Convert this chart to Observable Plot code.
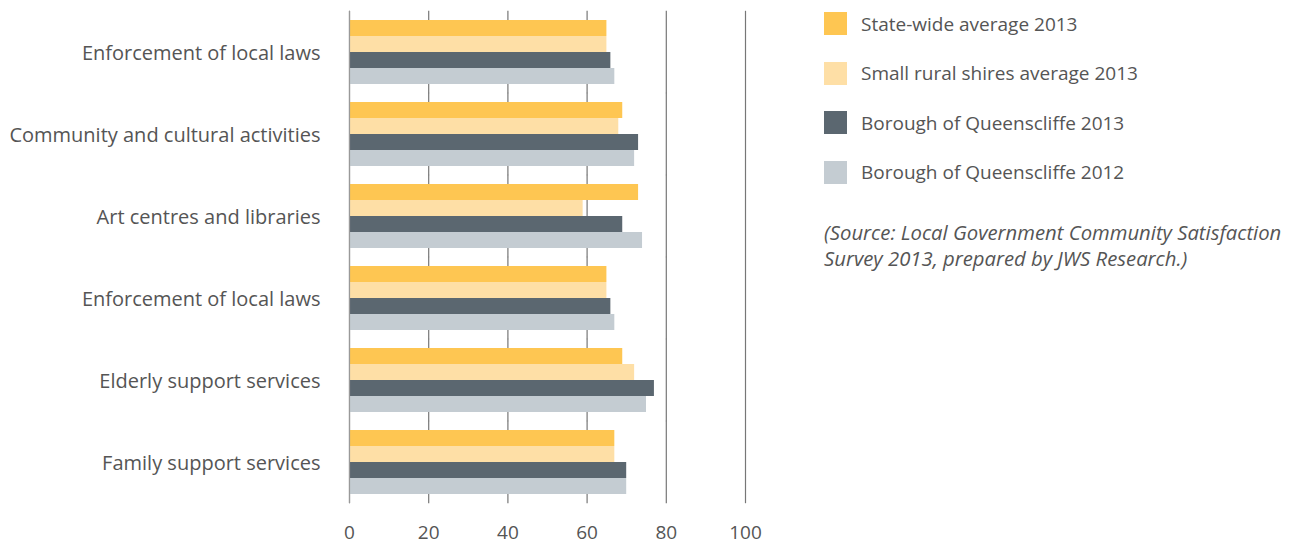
<!DOCTYPE html>
<html><head><meta charset="utf-8">
<script src="https://cdn.jsdelivr.net/npm/d3@7"></script>
<script src="https://cdn.jsdelivr.net/npm/@observablehq/plot@0.6"></script>
<style>
body{margin:0;background:#fff;font-family:"Open Sans",sans-serif;}
#wrap{position:relative;width:1292px;height:546px;overflow:hidden;}
#chart{position:absolute;left:0;top:0;}
#legend{position:absolute;left:824px;top:12px;color:#555;font-size:19px;}
.row{display:flex;align-items:center;height:23px;margin-bottom:26.5px;white-space:nowrap;}
.sw{width:23px;height:23px;margin-right:14px;flex:none;}
.src{font-style:italic;font-size:20.3px;margin-top:35px;line-height:26px;white-space:nowrap;}
</style>
</head><body>
<div id="wrap"><div id="chart"></div><div id="legend"></div></div>
<script>
const categories = ["Enforcement of local laws","Community and cultural activities","Art centres and libraries","Enforcement of local laws","Elderly support services","Family support services"];
const series = ["State-wide average 2013","Small rural shires average 2013","Borough of Queenscliffe 2013","Borough of Queenscliffe 2012"];
const stateWide = [65,69,73,65,69,67];
const smallRural = [65,68,59,65,72,67];
const borough2013 = [66,73,69,66,77,70];
const borough2012 = [67,72,74,67,75,70];
const xTicks = [0,20,40,60,80,100];
const colors = ["#FEC652","#FEDFA6","#5B6770","#C4CCD2"];
const source = ["(Source: Local Government Community Satisfaction","Survey 2013, prepared by JWS Research.)"];

const valuesBySeries = [stateWide, smallRural, borough2013, borough2012];
const rows = [];
categories.forEach((c, i) => {
  series.forEach((s, j) => rows.push({group: i, series: s, value: valuesBySeries[j][i]}));
});

const font = {fontSize: "20px", fontFamily: "'Open Sans', sans-serif", color: "#555"};
const ext = -9.2;

const chart = Plot.plot({
  width: 790, height: 546,
  marginLeft: 349, marginRight: 45, marginTop: 9, marginBottom: 42,
  style: {background: "transparent", ...font},
  x: {domain: [0, 100]},
  fy: {domain: d3.range(categories.length), paddingInner: 0.22, paddingOuter: 0.11},
  y: {domain: series, padding: 0, axis: null},
  color: {domain: series, range: colors},
  marks: [
    Plot.ruleX(xTicks, {stroke: "#777", strokeWidth: 1.2, insetTop: ext, insetBottom: ext}),
    Plot.barX(rows, {fy: "group", y: "series", x: "value", fill: "series"}),
    Plot.ruleX([0], {stroke: "#999", strokeWidth: 1.2, insetTop: ext, insetBottom: ext}),
    Plot.axisX({ticks: xTicks, tickSize: 0, tickPadding: 31, label: null, fill: "#555", fontSize: 19}),
    Plot.axisFy({anchor: "left", tickSize: 0, tickPadding: 29, label: null, tickFormat: i => categories[i], fill: "#555", fontSize: 20, dy: 1})
  ]
});
document.getElementById("chart").appendChild(chart);

const legend = document.getElementById("legend");
series.forEach((s, j) => {
  const r = document.createElement("div"); r.className = "row";
  const sw = document.createElement("div"); sw.className = "sw"; sw.style.background = colors[j];
  const t = document.createElement("span"); t.textContent = s;
  r.appendChild(sw); r.appendChild(t); legend.appendChild(r);
});
const src = document.createElement("div"); src.className = "src";
source.forEach((line, k) => { const d = document.createElement("div"); d.textContent = line; src.appendChild(d); });
legend.appendChild(src);
</script>
</body></html>
